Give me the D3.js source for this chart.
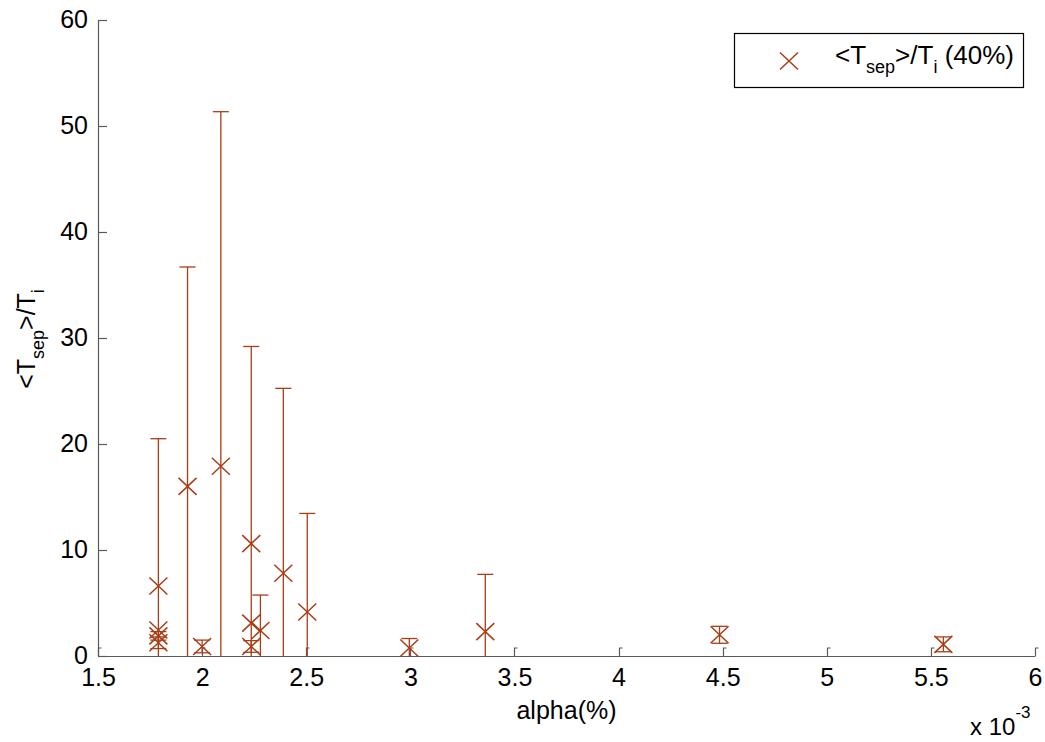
<!DOCTYPE html>
<html>
<head>
<meta charset="utf-8">
<script src="https://cdn.jsdelivr.net/npm/d3@7"></script>
<style>
  body { margin: 0; background: #fff; }
  svg { display: block; font-family: "Liberation Sans", Arial, Helvetica, sans-serif; }
</style>
</head>
<body>
<svg id="chart" width="1045" height="742"></svg>
<script>
// ---- data (alpha in units of 10^-3) ----
const alpha  = [1.79, 1.79, 1.79, 1.79, 1.93, 2.00, 2.09, 2.236, 2.236, 2.236, 2.28, 2.39, 2.505, 2.995, 3.36, 4.485, 5.56];
const ratio  = [6.6, 2.45, 1.9, 1.25, 16.0, 0.9, 17.9, 10.6, 3.1, 0.9, 2.4, 7.8, 4.15, 0.75, 2.3, 2.0, 1.1];
const errors = [13.9, 0, 0.4, 0.55, 20.7, 0.6, 33.45, 18.6, 0, 0.55, 3.35, 17.45, 9.3, 0.9, 5.4, 0.8, 0.7];
const xTicks = [1.5, 2, 2.5, 3, 3.5, 4, 4.5, 5, 5.5, 6];
const yTicks = [0, 10, 20, 30, 40, 50, 60];
const legendLabel = "(40%)";

const svg = d3.select("#chart");
const L = 98, R = 1035, T = 20, B = 656;
const x = d3.scaleLinear().domain([1.5, 6]).range([L, R]);
const y = d3.scaleLinear().domain([0, 60]).range([B, T]);

const markColor = "#a93d16";
const axisColor = "#5a5a5a";
const FS = 25, SUB = 18;

// axes (left & bottom only)
const xAxis = d3.axisBottom(x).tickValues(xTicks).tickSize(0).tickPadding(12)
  .tickFormat(d => String(d));
const yAxis = d3.axisLeft(y).tickValues(yTicks).tickSize(0).tickPadding(10)
  .tickFormat(d => String(d));

const gx = svg.append("g").attr("transform", `translate(0,${B})`).call(xAxis);
const gy = svg.append("g").attr("transform", `translate(${L},0)`).call(yAxis);
[gx, gy].forEach(g => {
  g.select(".domain").attr("stroke", axisColor).attr("stroke-width", 1.2);
  g.selectAll("text").attr("fill", "#000").style("font-size", FS + "px");
});
gx.selectAll("text").attr("dy", "0.71em");
gy.selectAll("text").attr("dy", "0.3em");

// inward tick marks
svg.append("g").selectAll("path").data(xTicks).join("path")
  .attr("d", d => `M${Math.round(x(d)) + 0.5},${B} V${B - 8} h3`)
  .attr("fill", "none").attr("stroke", axisColor).attr("stroke-width", 1.2);
svg.append("g").selectAll("path").data(yTicks).join("path")
  .attr("d", d => `M${L},${Math.round(y(d)) + 0.5} H${L + 9}`)
  .attr("fill", "none").attr("stroke", axisColor).attr("stroke-width", 1.2);

// error bars
const capW = 8;
const eb = svg.append("g").attr("stroke", markColor).attr("stroke-width", 1.3).attr("fill", "none");
alpha.forEach((a, i) => {
  const cx = x(a);
  const hi = ratio[i] + errors[i];
  const lo = ratio[i] - errors[i];
  const yTop = y(hi);
  const yBot = y(Math.max(0, lo));
  eb.append("line").attr("x1", cx).attr("x2", cx).attr("y1", yTop).attr("y2", yBot);
  if (errors[i] > 0) {
    eb.append("line").attr("x1", cx - capW).attr("x2", cx + capW).attr("y1", yTop).attr("y2", yTop);
    if (lo >= 0) {
      eb.append("line").attr("x1", cx - capW).attr("x2", cx + capW).attr("y1", yBot).attr("y2", yBot);
    }
  }
});

// X markers
const mk = 9, mky = 8.5;
function xMarker(g, cx, cy) {
  g.append("path")
    .attr("d", `M${cx - mk},${cy - mky} L${cx + mk},${cy + mky} M${cx - mk},${cy + mky} L${cx + mk},${cy - mky}`)
    .attr("stroke", markColor).attr("stroke-width", 1.5).attr("fill", "none");
}
const mg = svg.append("g");
alpha.forEach((a, i) => xMarker(mg, x(a), y(ratio[i])));

// axis labels
svg.append("text").attr("x", (L + R) / 2).attr("y", 719).attr("text-anchor", "middle")
  .style("font-size", FS + "px").text("alpha(%)");

const ex = svg.append("text").attr("x", 970).attr("y", 735).style("font-size", "24px");
ex.append("tspan").text("x 10");
ex.append("tspan").attr("dy", -17).style("font-size", "17px").text("-3");

const yl = svg.append("text")
  .attr("transform", `translate(35,${(T + B) / 2 + 1}) rotate(-90)`)
  .attr("text-anchor", "middle").style("font-size", FS + "px");
yl.append("tspan").text("<T");
yl.append("tspan").attr("dy", 9).style("font-size", SUB + "px").text("sep");
yl.append("tspan").attr("dy", -9).text(">/T");
yl.append("tspan").attr("dy", 9).style("font-size", SUB + "px").text("i");

// legend
const lg = svg.append("g");
lg.append("rect").attr("x", 734.5).attr("y", 33.5).attr("width", 289).attr("height", 54)
  .attr("fill", "#fff").attr("stroke", "#000").attr("stroke-width", 1.2);
xMarker(lg, 789, 61);
const lt = lg.append("text").attr("x", 835).attr("y", 64).style("font-size", "26px");
lt.append("tspan").text("<T");
lt.append("tspan").attr("dy", 9).style("font-size", SUB + "px").text("sep");
lt.append("tspan").attr("dy", -9).text(">/T");
lt.append("tspan").attr("dy", 9).style("font-size", SUB + "px").text("i");
lt.append("tspan").attr("dy", -9).text(" " + legendLabel);
</script>
</body>
</html>
